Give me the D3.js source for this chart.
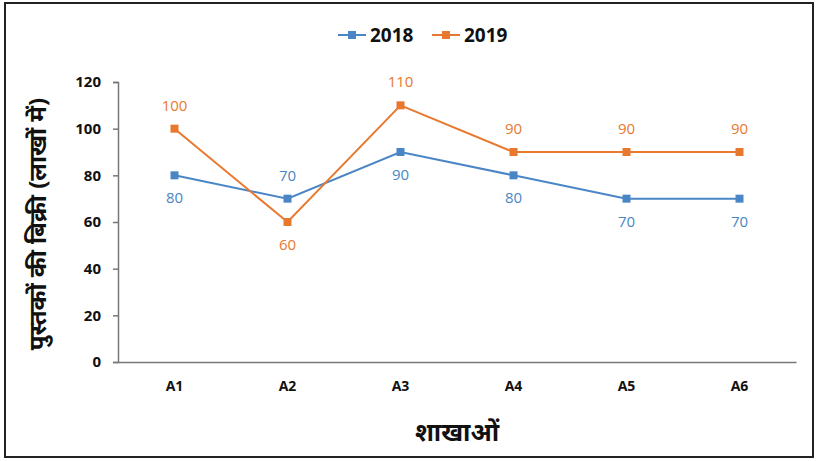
<!DOCTYPE html>
<html>
<head>
<meta charset="utf-8">
<script src="https://cdn.jsdelivr.net/npm/d3@7"></script>
<style>
  body { margin: 0; background: #fff; }
  svg { display: block; }
</style>
</head>
<body>
<div id="chart"></div>
<script>
// data
var branches = ["A1", "A2", "A3", "A4", "A5", "A6"];
var sales2018 = [80, 70, 90, 80, 70, 70];
var sales2019 = [100, 60, 110, 90, 90, 90];
var yTicks = [0, 20, 40, 60, 80, 100, 120];
// label above (-1) or below (+1) the point
var labelPos2018 = [1, -1, 1, 1, 1, 1];
var labelPos2019 = [-1, 1, -1, -1, -1, -1];

var width = 819,
    height = 461;
var margin = {left: 118, right: 23, top: 82, bottom: 99};

var svg = d3.select("#chart")
  .append("svg")
    .attr("width", width)
    .attr("height", height);

// outer frame
svg.append("rect")
  .attr("x", 5).attr("y", 3)
  .attr("width", 808).attr("height", 454)
  .attr("fill", "#fff")
  .attr("stroke", "#222")
  .attr("stroke-width", 2);

var x = d3.scaleBand()
  .domain(branches)
  .range([margin.left, width - margin.right]);

var y = d3.scaleLinear()
  .domain([0, 120])
  .range([height - margin.bottom, margin.top]);

// y axis
var yAxis = svg.append("g")
  .attr("transform", "translate(" + margin.left + ",0)")
  .call(d3.axisLeft(y).tickValues(yTicks).tickSize(5).tickPadding(12));
yAxis.select(".domain").attr("stroke", "#777").attr("stroke-width", 1.5);
yAxis.selectAll(".tick line").attr("stroke", "#777").attr("stroke-width", 1.5);
yAxis.selectAll("text")
  .attr("fill", "#111")
  .style("font-family", "'Open Sans', sans-serif")
  .style("font-weight", "bold")
  .style("font-size", "15px");

// x axis
var xAxis = svg.append("g")
  .attr("transform", "translate(0," + (height - margin.bottom) + ")")
  .call(d3.axisBottom(x).tickSize(0).tickPadding(19).tickSizeOuter(0));
xAxis.select(".domain").attr("stroke", "#777").attr("stroke-width", 1.5);
xAxis.selectAll("text")
  .attr("fill", "#111")
  .style("font-family", "'Open Sans', sans-serif")
  .style("font-weight", "bold")
  .style("font-size", "14px");

// axis titles
svg.append("text")
  .attr("transform", "translate(46," + ((margin.top + height - margin.bottom) / 2 + 2) + ") rotate(-90)")
  .attr("text-anchor", "middle")
  .attr("fill", "#111")
  .style("font-family", "'Noto Sans', sans-serif")
  .style("font-weight", "bold")
  .style("font-size", "24px")
  .text("पुस्तकों की बिक्री (लाखों में)");

svg.append("text")
  .attr("x", x("A3") + x.bandwidth())
  .attr("y", 441)
  .attr("text-anchor", "middle")
  .attr("fill", "#111")
  .style("font-family", "'Noto Sans', sans-serif")
  .style("font-weight", "bold")
  .style("font-size", "25px")
  .text("शाखाओं");

var series = [
  {name: "2018", values: sales2018, pos: labelPos2018, color: "#4a86c5"},
  {name: "2019", values: sales2019, pos: labelPos2019, color: "#e8782e"}
];

var line = d3.line()
  .x(function(d, i) { return x(branches[i]) + x.bandwidth() / 2; })
  .y(function(d) { return y(d); });

series.forEach(function(s) {
  svg.append("path")
    .attr("d", line(s.values))
    .attr("fill", "none")
    .attr("stroke", s.color)
    .attr("stroke-width", 2);

  svg.selectAll(".m" + s.name)
    .data(s.values)
    .enter()
    .append("rect")
      .attr("x", function(d, i) { return x(branches[i]) + x.bandwidth() / 2 - 4; })
      .attr("y", function(d) { return y(d) - 4; })
      .attr("width", 8)
      .attr("height", 8)
      .attr("fill", s.color);

  svg.selectAll(".l" + s.name)
    .data(s.values)
    .enter()
    .append("text")
      .attr("x", function(d, i) { return x(branches[i]) + x.bandwidth() / 2; })
      .attr("y", function(d, i) { return y(d) + s.pos[i] * 23 + 5; })
      .attr("text-anchor", "middle")
      .attr("fill", s.color)
      .style("font-family", "'Open Sans', sans-serif")
      .style("font-size", "15px")
      .text(function(d) { return d; });
});

// legend
var legend = svg.append("g").attr("transform", "translate(338,35)");
series.forEach(function(s, i) {
  var g = legend.append("g").attr("transform", "translate(" + (i * 94) + ",0)");
  g.append("line")
    .attr("x1", 0).attr("x2", 28)
    .attr("stroke", s.color).attr("stroke-width", 2);
  g.append("rect")
    .attr("x", 10).attr("y", -4).attr("width", 8).attr("height", 8)
    .attr("fill", s.color);
  g.append("text")
    .attr("x", 32).attr("y", 7)
    .attr("fill", "#111")
    .style("font-family", "'Liberation Sans Narrow', 'Open Sans', sans-serif")
    .style("font-weight", "bold")
    .style("font-size", "19px")
    .text(s.name);
});
</script>
</body>
</html>
